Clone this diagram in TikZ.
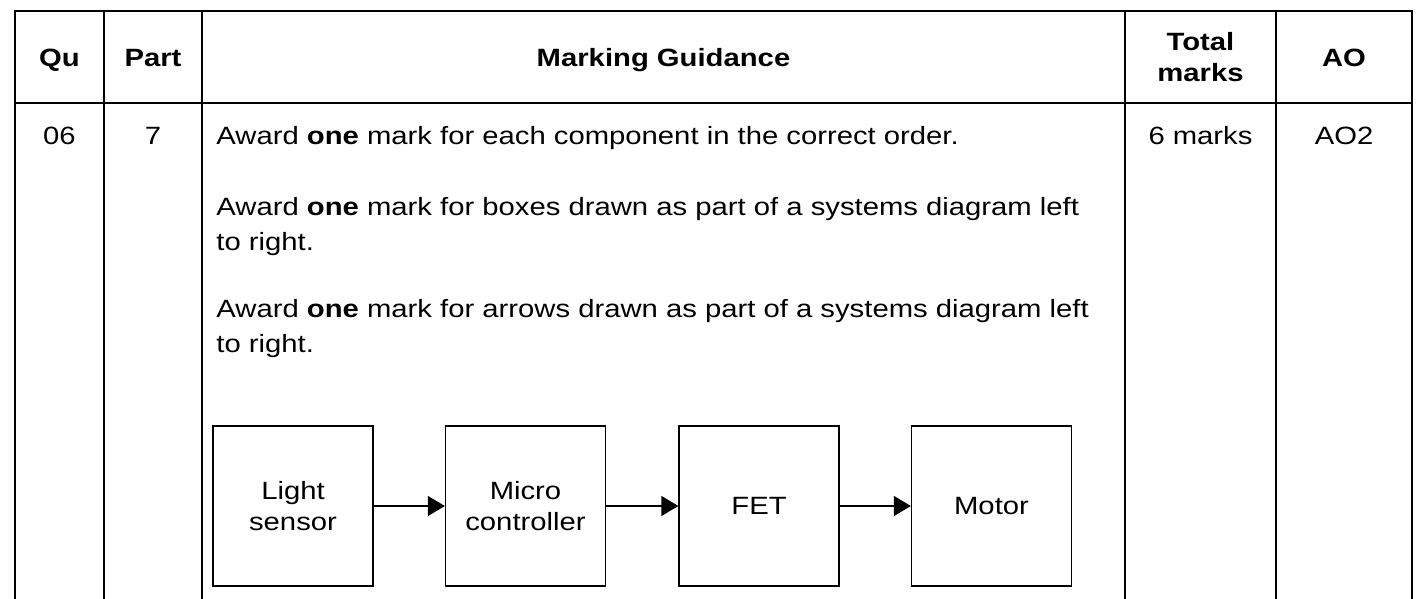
\documentclass[tikz,border=0pt]{standalone}
\usepackage{fontspec}
\setmainfont{Liberation Sans}[FakeStretch=1.17]
\usetikzlibrary{arrows.meta}
\newcommand\cellfont{\fontsize{12.5}{15.5}\selectfont}
\begin{document}
\begin{tikzpicture}[x=0.5pt,y=-0.5pt,
  rule/.style={line width=1pt, line cap=rect},
  txt/.style={inner sep=0pt, font=\cellfont},
  head/.style={inner sep=0pt, align=center, font=\cellfont\bfseries},
  blk/.style={draw, line width=0.65pt, minimum width=80pt, minimum height=80pt,
              inner sep=0pt, align=center, font=\cellfont},
  flow/.style={line width=0.65pt, -{Triangle[length=8.5pt,width=10pt]}}]
\useasboundingbox (0,0) rectangle (1419,599);

% table grid (open at the bottom)
\draw[rule] (15,11) -- (1412,11);
\draw[rule] (15,103) -- (1412,103);
\foreach \cx in {15,104,202,1125,1276,1412}
  \draw[rule] (\cx,11) -- (\cx,599);

% header row
\node[head, anchor=base] (hqu)   at (59.5,67)  {Qu};
\node[head, anchor=base] (hpart) at (153,67)   {Part};
\node[head, anchor=base] (hmg)   at (663.5,67) {Marking Guidance};
\node[head]              (htot)  at (1200.5,57) {Total\\marks};
\node[head, anchor=base] (hao)   at (1344,67)  {AO};

% answer row
\node[txt, anchor=base] (qu)   at (59.5,145)  {06};
\node[txt, anchor=base] (part) at (153,145)   {7};
\node[txt, anchor=base] (tot)  at (1200.5,145) {6 marks};
\node[txt, anchor=base] (ao)   at (1344,145)  {AO2};

% marking guidance
\node[txt, anchor=base west] (g1)  at (216,145) {Award \textbf{one} mark for each component in the correct order.};
\node[txt, anchor=base west] (g2a) at (216,215) {Award \textbf{one} mark for boxes drawn as part of a systems diagram left};
\node[txt, anchor=base west] (g2b) at (216,250) {to right.};
\node[txt, anchor=base west] (g3a) at (216,317) {Award \textbf{one} mark for arrows drawn as part of a systems diagram left};
\node[txt, anchor=base west] (g3b) at (216,352) {to right.};

% systems diagram
\node[blk] (sensor) at (293,506)   {Light\\sensor};
\node[blk] (micro)  at (525.5,506) {Micro\\controller};
\node[blk] (fet)    at (759,506)   {FET};
\node[blk] (motor)  at (991.5,506) {Motor};

\draw[flow] (sensor) -- (micro);
\draw[flow] (micro) -- (fet);
\draw[flow] (fet) -- (motor);
\end{tikzpicture}
\end{document}
